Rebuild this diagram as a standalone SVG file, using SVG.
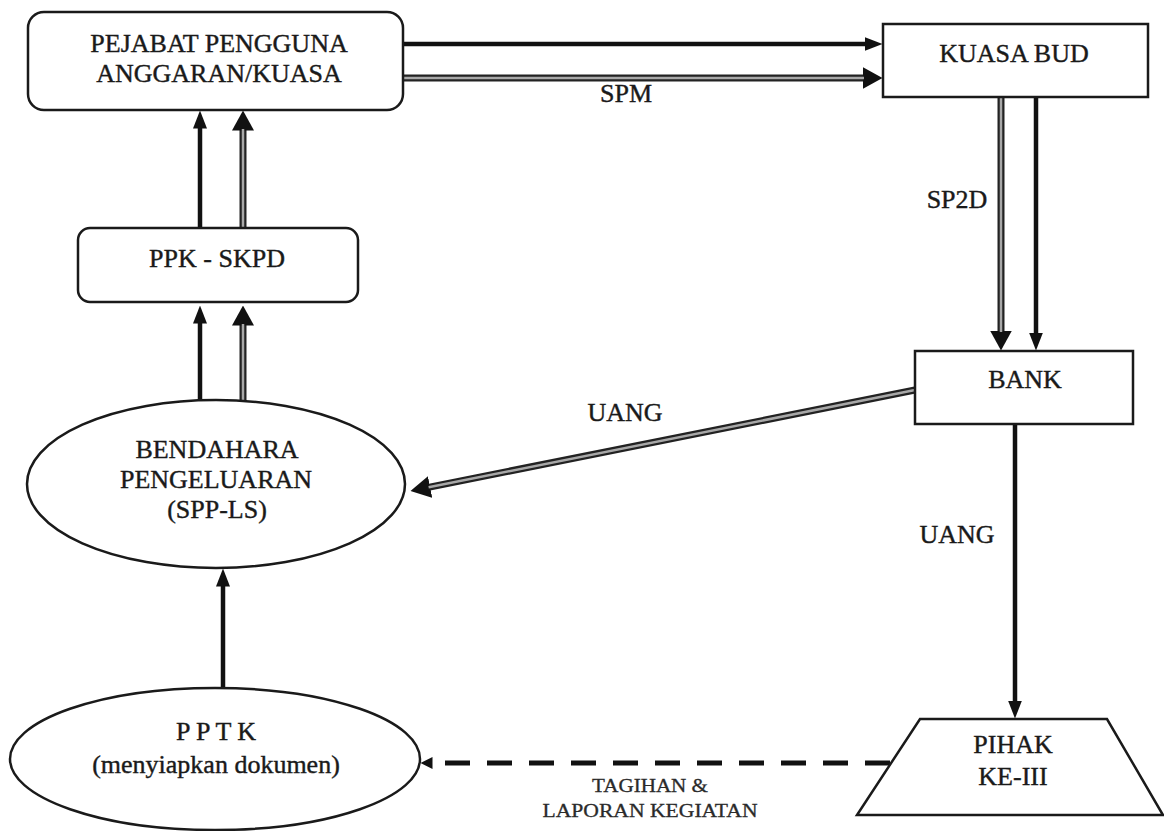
<svg xmlns="http://www.w3.org/2000/svg" width="1164" height="831" viewBox="0 0 1164 831">
<style>
.box{fill:#fff;stroke:#1a1a1a;stroke-width:2.5}
.t{font-family:"Liberation Serif","Times New Roman",serif;font-size:26px;fill:#1a1a1a;stroke:#1a1a1a;stroke-width:0.4;text-anchor:middle}
.ts{font-family:"Liberation Serif","Times New Roman",serif;font-size:19px;fill:#2a2a2a;stroke:#2a2a2a;stroke-width:0.3;text-anchor:middle}
.sol{fill:none;stroke:#111;stroke-width:4.5}
.dblo{fill:none;stroke:#222;stroke-width:7}
.dbli{fill:none;stroke:#a8a8a8;stroke-width:2.5}
.dash{fill:none;stroke:#111;stroke-width:5;stroke-dasharray:25 17}
</style>
<defs>
<marker id="arrS" markerUnits="userSpaceOnUse" viewBox="0 0 18 14" markerWidth="18" markerHeight="14" refX="0.5" refY="7" orient="auto"><path d="M0,0 L18,7 L0,14 Z" fill="#111"/></marker>
<marker id="arrL" markerUnits="userSpaceOnUse" viewBox="0 0 20 22" markerWidth="20" markerHeight="22" refX="0.5" refY="11" orient="auto"><path d="M0,0 L20,11 L0,22 Z" fill="#111"/></marker>
<marker id="arrD" markerUnits="userSpaceOnUse" viewBox="0 0 12 12" markerWidth="12" markerHeight="12" refX="0.5" refY="6" orient="auto"><path d="M0,0 L12,6 L0,12 Z" fill="#111"/></marker>
</defs>
<rect width="1164" height="831" fill="#fff"/>

<g id="connectors">
  <!-- PEJABAT -> KUASA BUD -->
  <path class="sol" d="M403,44 L865,44" marker-end="url(#arrS)"/>
  <path class="dblo" d="M403,78 L863,78" marker-end="url(#arrL)"/>
  <path class="dbli" d="M403,78 L864,78"/>
  <!-- BENDAHARA -> PPK -->
  <path class="sol" d="M200,400 L200,323" marker-end="url(#arrS)"/>
  <path class="dblo" d="M243,400 L243,325" marker-end="url(#arrL)"/>
  <path class="dbli" d="M243,400 L243,324"/>
  <!-- PPK -> PEJABAT -->
  <path class="sol" d="M200,228 L200,128" marker-end="url(#arrS)"/>
  <path class="dblo" d="M243,228 L243,130" marker-end="url(#arrL)"/>
  <path class="dbli" d="M243,228 L243,129"/>
  <!-- PPTK -> BENDAHARA -->
  <path class="sol" d="M223,688 L223,586" marker-end="url(#arrS)"/>
  <!-- KUASA BUD -> BANK -->
  <path class="dblo" d="M1001,97 L1001,331" marker-end="url(#arrL)"/>
  <path class="dbli" d="M1001,97 L1001,332"/>
  <path class="sol" d="M1036,97 L1036,333" marker-end="url(#arrS)"/>
  <!-- BANK -> BENDAHARA -->
  <path class="dblo" d="M915,390 L429.6,487.1" marker-end="url(#arrL)"/>
  <path class="dbli" d="M915,390 L428.6,487.3"/>
  <!-- BANK -> PIHAK -->
  <path class="sol" d="M1015,424 L1015,701" marker-end="url(#arrS)"/>
  <!-- PIHAK -> PPTK -->
  <path class="dash" d="M890,763 L432,763" marker-end="url(#arrD)"/>
  <text class="t" x="626" y="102">SPM</text>
  <text class="t" x="957" y="208">SP2D</text>
  <text class="t" x="625" y="421">UANG</text>
  <text class="t" x="957" y="543">UANG</text>
  <text class="ts" x="650" y="792" textLength="116" lengthAdjust="spacingAndGlyphs">TAGIHAN &amp;</text>
  <text class="ts" x="650" y="817" textLength="215" lengthAdjust="spacingAndGlyphs">LAPORAN KEGIATAN</text>
</g>

<g id="pejabat">
  <rect class="box" x="28" y="12" width="375" height="98" rx="16"/>
  <text class="t" x="219" y="52">PEJABAT PENGGUNA</text>
  <text class="t" x="219" y="82">ANGGARAN/KUASA</text>
</g>
<g id="kuasa-bud">
  <rect class="box" x="883" y="24" width="265" height="73"/>
  <text class="t" x="1014" y="62">KUASA BUD</text>
</g>
<g id="ppk-skpd">
  <rect class="box" x="78" y="228" width="280" height="74" rx="12"/>
  <text class="t" x="217" y="267">PPK - SKPD</text>
</g>
<g id="bank">
  <rect class="box" x="915" y="351" width="218" height="73"/>
  <text class="t" x="1025" y="388">BANK</text>
</g>
<g id="bendahara">
  <ellipse class="box" cx="216" cy="484" rx="189" ry="84"/>
  <text class="t" x="217" y="458">BENDAHARA</text>
  <text class="t" x="216" y="488">PENGELUARAN</text>
  <text class="t" x="217" y="518">(SPP-LS)</text>
</g>
<g id="pptk">
  <ellipse class="box" cx="215" cy="759" rx="205" ry="71"/>
  <text class="t" x="216" y="740">P P T K</text>
  <text class="t" x="216" y="773">(menyiapkan dokumen)</text>
</g>
<g id="pihak">
  <polygon class="box" points="920,719 1107,719 1163,815 857,815"/>
  <text class="t" x="1013" y="753">PIHAK</text>
  <text class="t" x="1013" y="785">KE-III</text>
</g>
</svg>
